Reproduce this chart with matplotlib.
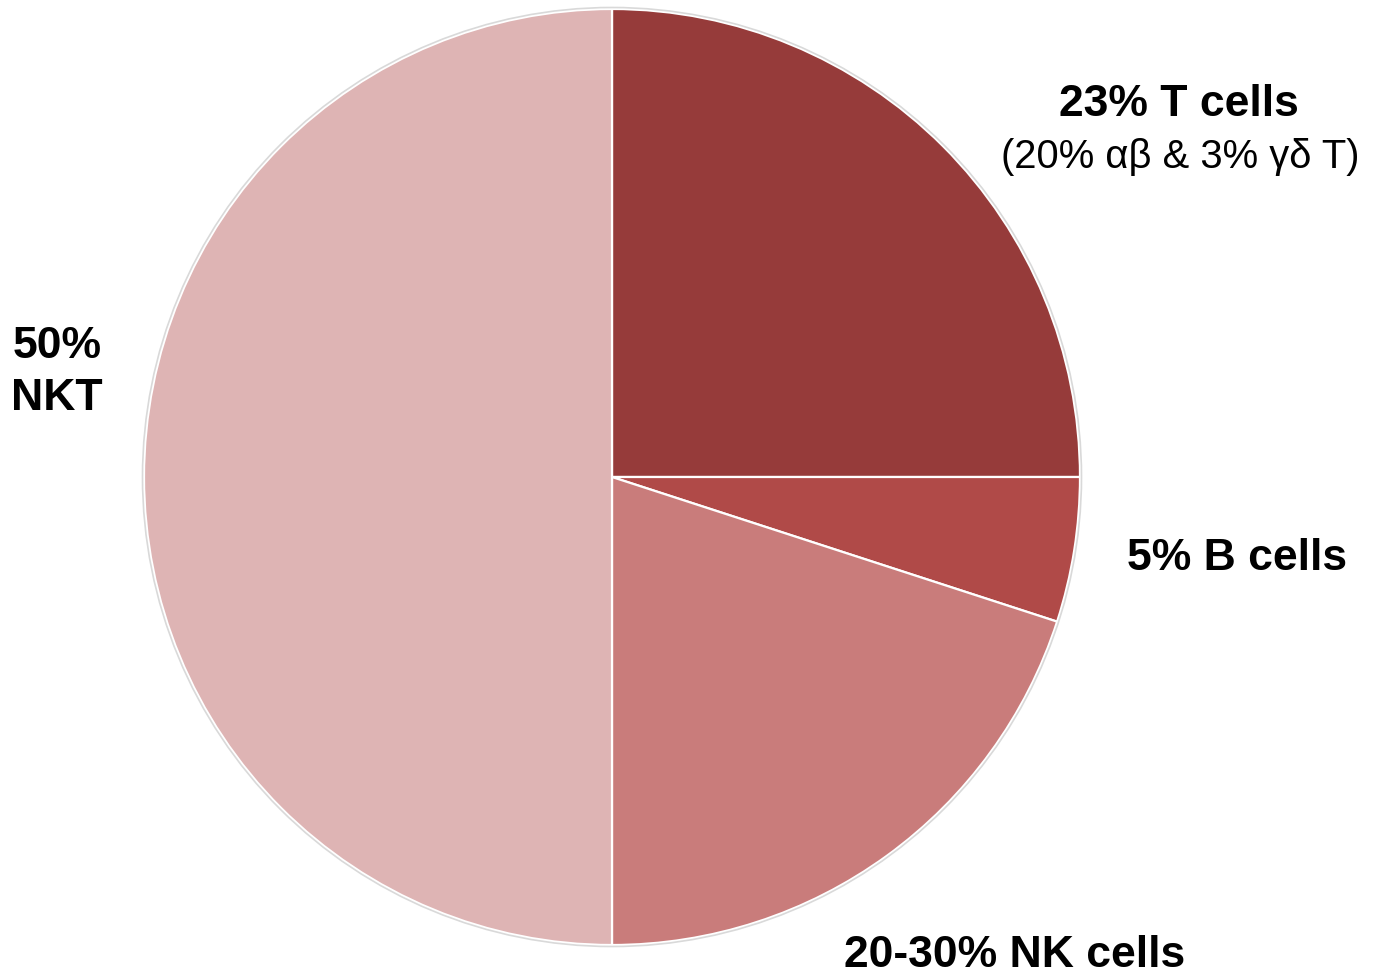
import matplotlib
matplotlib.use('Agg')
import matplotlib.pyplot as plt
from matplotlib.patches import Circle

plt.rcParams['font.family'] = ['Liberation Sans', 'DejaVu Sans']

# slices, clockwise from 12 o'clock
cells = ['T cells', 'B cells', 'NK cells', 'NKT']
shares = [25, 5, 20, 50]
colors = ['#963B3A', '#B04A48', '#C97C7B', '#DEB4B4']

W, H = 1379, 979
fig = plt.figure(figsize=(W / 100, H / 100), dpi=100)
ax = fig.add_axes([0, 0, 1, 1])
ax.set_xlim(0, W); ax.set_ylim(0, H)
ax.set_aspect('equal'); ax.axis('off')

cx, cy, r = 612, H - 478, 468
ax.pie(shares, colors=colors, startangle=90, counterclock=False,
       center=(cx, cy), radius=r, frame=True,
       wedgeprops=dict(edgecolor='white', linewidth=1.6))
ax.add_patch(Circle((cx, cy), r + 1.5, fc='none', ec='#D9D9D9', lw=1.2))
ax.set_xlim(0, W); ax.set_ylim(0, H); ax.axis('off')

# labels
ax.text(1179, H - 104, '23% T cells', ha='center', va='center', fontsize=32, fontweight='bold')
ax.text(1180, H - 157, '(20% αβ & 3% γδ T)', ha='center', va='center', fontsize=28.8)
ax.text(1237, H - 558, '5% B cells', ha='center', va='center', fontsize=32, fontweight='bold')
ax.text(1015, H - 956, '20-30% NK cells', ha='center', va='center', fontsize=32, fontweight='bold')
ax.text(57, H - 346, '50%', ha='center', va='center', fontsize=32, fontweight='bold')
ax.text(57, H - 399, 'NKT', ha='center', va='center', fontsize=32, fontweight='bold')

fig.savefig('out.png', dpi=100, facecolor='white')
